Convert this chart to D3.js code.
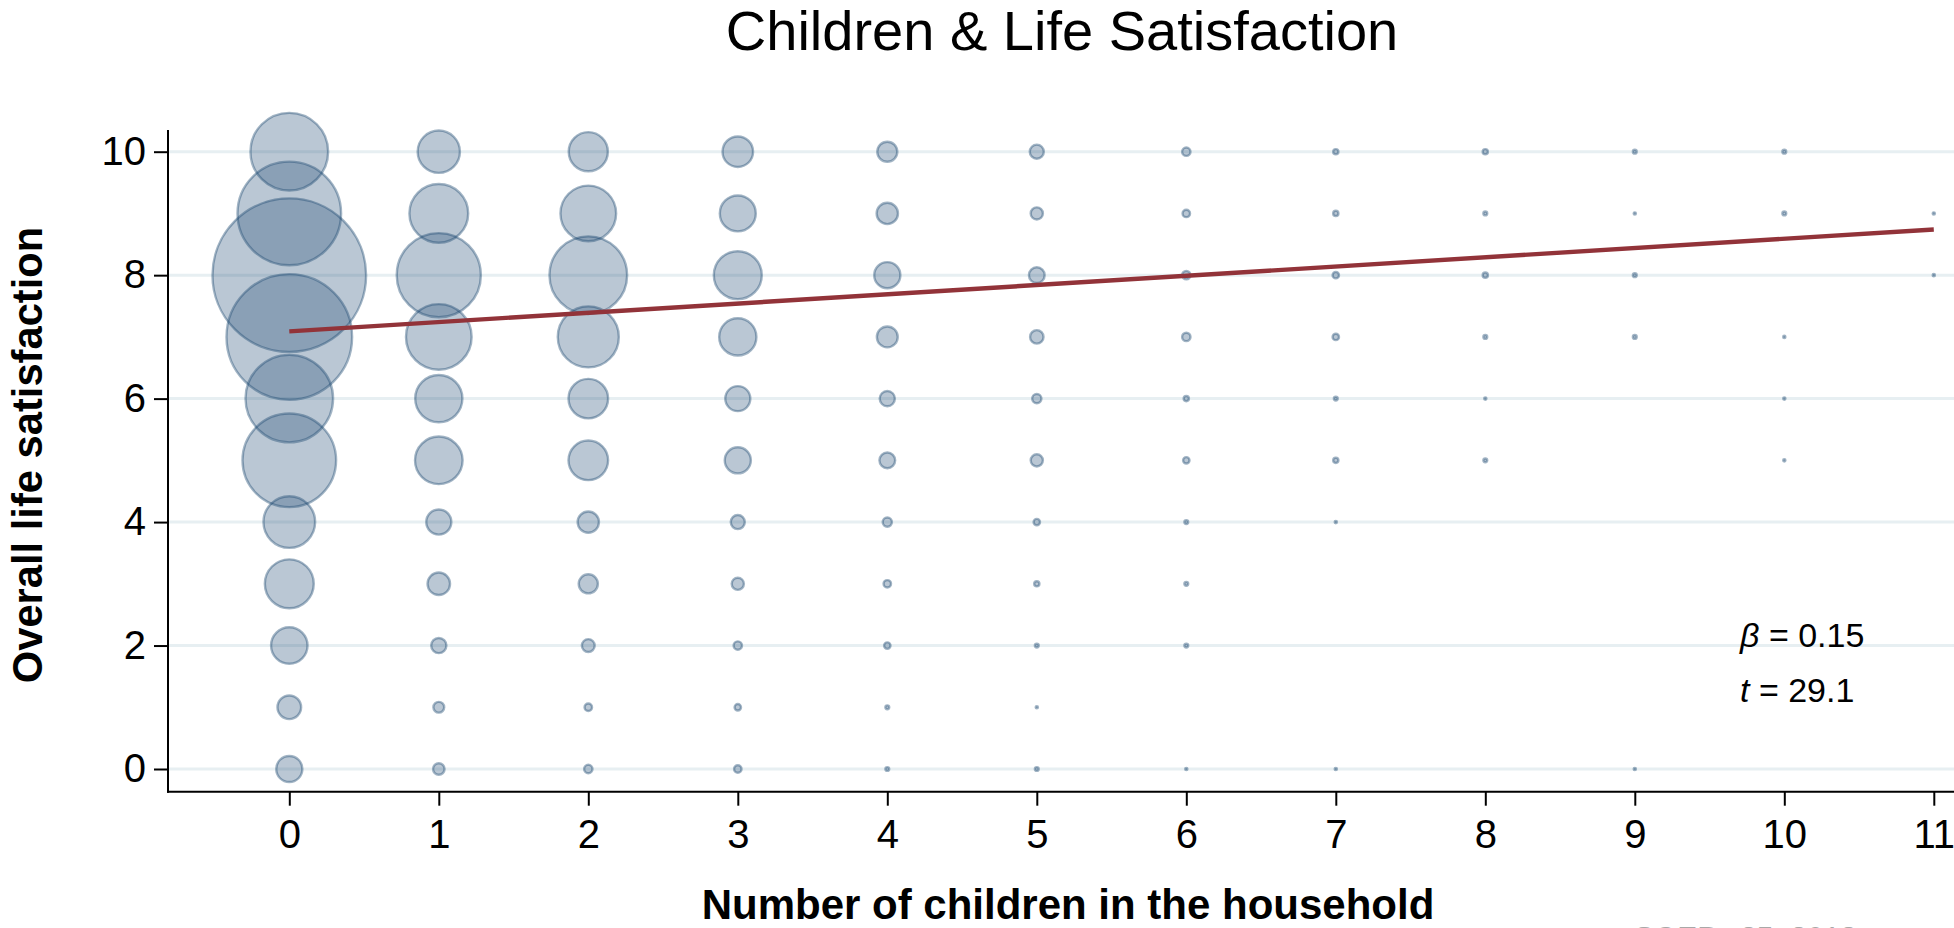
<!DOCTYPE html>
<html>
<head>
<meta charset="utf-8">
<script src="https://cdn.jsdelivr.net/npm/d3@7"></script>
<style>
  html, body { margin: 0; padding: 0; background: #ffffff; overflow: hidden; }
  svg { display: block; font-family: "Liberation Sans", Arial, Helvetica, sans-serif; }
</style>
</head>
<body>
<svg id="chart" width="1954" height="928"></svg>
<script>
// Life satisfaction score (0-10) on the y axis
const satisfactionLevels = [0, 1, 2, 3, 4, 5, 6, 7, 8, 9, 10];
// Number of children in the household on the x axis
const childCounts = [0, 1, 2, 3, 4, 5, 6, 7, 8, 9, 10, 11];

// Respondents per satisfaction score (index = score 0..10), one array per child count
const kids0  = [42, 35, 78, 136, 151, 476, 418, 846, 1257, 580, 331];
const kids1  = [10, 9, 16, 32, 39, 129, 127, 239, 387, 193, 103];
const kids2  = [6, 5, 12, 24, 29, 91, 91, 208, 331, 174, 89];
const kids3  = [5, 4, 6, 11, 14, 42, 39, 81, 131, 76, 56];
const kids4  = [2, 2, 4, 5, 7, 17, 16, 28, 42, 29, 26];
const kids5  = [2, 1, 2, 3, 4, 11, 7, 13, 17, 11, 14];
const kids6  = [1, 0, 2, 2, 2, 4, 3, 6, 6, 5, 6];
const kids7  = [1, 0, 0, 0, 1, 3, 2, 4, 4, 3, 3];
const kids8  = [0, 0, 0, 0, 0, 2, 1, 2, 3, 2, 3];
const kids9  = [1, 0, 0, 0, 0, 0, 0, 2, 2, 1, 2];
const kids10 = [0, 0, 0, 0, 0, 1, 1, 1, 0, 2, 2];
const kids11 = [0, 0, 0, 0, 0, 0, 0, 0, 1, 1, 0];

// Linear fit: satisfaction = intercept + beta * children
const fitIntercept = 7.09;
const fitBeta = 0.15;
const fitT = 29.1;

const xTicks = [0, 1, 2, 3, 4, 5, 6, 7, 8, 9, 10, 11];
const yTicks = [0, 2, 4, 6, 8, 10];

const chartTitle = "Children & Life Satisfaction";
const xTitle = "Number of children in the household";
const yTitle = "Overall life satisfaction";
const sourceNote = "SOEP v35, 2018";

// ---------------------------------------------------------------
const perChild = [kids0, kids1, kids2, kids3, kids4, kids5, kids6,
                  kids7, kids8, kids9, kids10, kids11];
const cells = [];
childCounts.forEach((c, i) => {
  satisfactionLevels.forEach((s, j) => {
    const n = perChild[i][j];
    if (n > 0) cells.push({ children: c, score: s, n: n });
  });
});

const svg = d3.select("#chart");
const W = 1954, H = 928;
const plotLeft = 168, plotBottom = 791.7, plotTop = 130;

const x = d3.scaleLinear().domain([0, 11]).range([289.3, 1933.8]);
const y = d3.scaleLinear().domain([0, 10]).range([769, 151.7]);
const r = d3.scaleSqrt().domain([0, d3.max(cells, d => d.n)]).range([0, 78]);

const navy = "26,71,111";
const strokeW = 2.4;

// Horizontal grid lines
svg.append("g")
  .selectAll("line")
  .data(yTicks)
  .join("line")
  .attr("x1", plotLeft)
  .attr("x2", W)
  .attr("y1", d => y(d))
  .attr("y2", d => y(d))
  .attr("stroke", "#e7eff2")
  .attr("stroke-width", 3);

// Bubbles, area proportional to number of respondents
svg.append("g")
  .selectAll("circle")
  .data(cells)
  .join("circle")
  .attr("cx", d => x(d.children))
  .attr("cy", d => y(d.score))
  .attr("r", d => Math.max(1.1, r(d.n) - strokeW / 2))
  .attr("fill", `rgba(${navy},0.30)`)
  .attr("stroke", `rgba(${navy},0.40)`)
  .attr("stroke-width", strokeW);

// Fitted regression line
svg.append("line")
  .attr("x1", x(0))
  .attr("x2", x(11))
  .attr("y1", y(fitIntercept))
  .attr("y2", y(fitIntercept + fitBeta * 11))
  .attr("stroke", "#923339")
  .attr("stroke-width", 4.4);

// Y axis
const yAxis = d3.axisLeft(y).tickValues(yTicks).tickSize(14).tickPadding(8)
  .tickFormat(d3.format("d"));
const gy = svg.append("g").attr("transform", `translate(${plotLeft},0)`).call(yAxis);
gy.select(".domain").remove();
gy.selectAll(".tick line").attr("stroke", "#000").attr("stroke-width", 2);
gy.selectAll(".tick text")
  .attr("font-size", 40)
  .attr("fill", "#000")
  .attr("font-family", "Liberation Sans, Arial, sans-serif");
svg.append("line")
  .attr("x1", plotLeft).attr("x2", plotLeft)
  .attr("y1", plotTop).attr("y2", plotBottom + 1)
  .attr("stroke", "#000").attr("stroke-width", 2);

// X axis
const xAxis = d3.axisBottom(x).tickValues(xTicks).tickSize(14).tickPadding(14)
  .tickFormat(d3.format("d"));
const gx = svg.append("g").attr("transform", `translate(0,${plotBottom})`).call(xAxis);
gx.select(".domain").remove();
gx.selectAll(".tick line").attr("stroke", "#000").attr("stroke-width", 2);
gx.selectAll(".tick text")
  .attr("font-size", 40)
  .attr("fill", "#000")
  .attr("font-family", "Liberation Sans, Arial, sans-serif");
svg.append("line")
  .attr("x1", plotLeft - 1).attr("x2", W)
  .attr("y1", plotBottom).attr("y2", plotBottom)
  .attr("stroke", "#000").attr("stroke-width", 2);

// Title
svg.append("text")
  .attr("x", 1062)
  .attr("y", 50)
  .attr("text-anchor", "middle")
  .attr("font-size", 56)
  .attr("fill", "#000")
  .text(chartTitle);

// Axis titles
svg.append("text")
  .attr("x", 1068)
  .attr("y", 919)
  .attr("text-anchor", "middle")
  .attr("font-size", 42)
  .attr("font-weight", "bold")
  .attr("fill", "#000")
  .text(xTitle);

svg.append("text")
  .attr("transform", "translate(42,455) rotate(-90)")
  .attr("text-anchor", "middle")
  .attr("font-size", 41.7)
  .attr("font-weight", "bold")
  .attr("fill", "#000")
  .text(yTitle);

// Regression annotation
const note = svg.append("g").attr("font-size", 34).attr("fill", "#000");
const l1 = note.append("text").attr("x", 1740).attr("y", 647);
l1.append("tspan").attr("font-style", "italic").text("\u03B2");
l1.append("tspan").text(` = ${fitBeta.toFixed(2)}`);
const l2 = note.append("text").attr("x", 1740).attr("y", 702);
l2.append("tspan").attr("font-style", "italic").text("t");
l2.append("tspan").text(` = ${fitT.toFixed(1)}`);

// Data source note along the bottom edge
svg.append("text")
  .attr("x", 1634)
  .attr("y", 947)
  .attr("font-size", 30)
  .attr("fill", "#a8a8a8")
  .text(sourceNote);
</script>
</body>
</html>
